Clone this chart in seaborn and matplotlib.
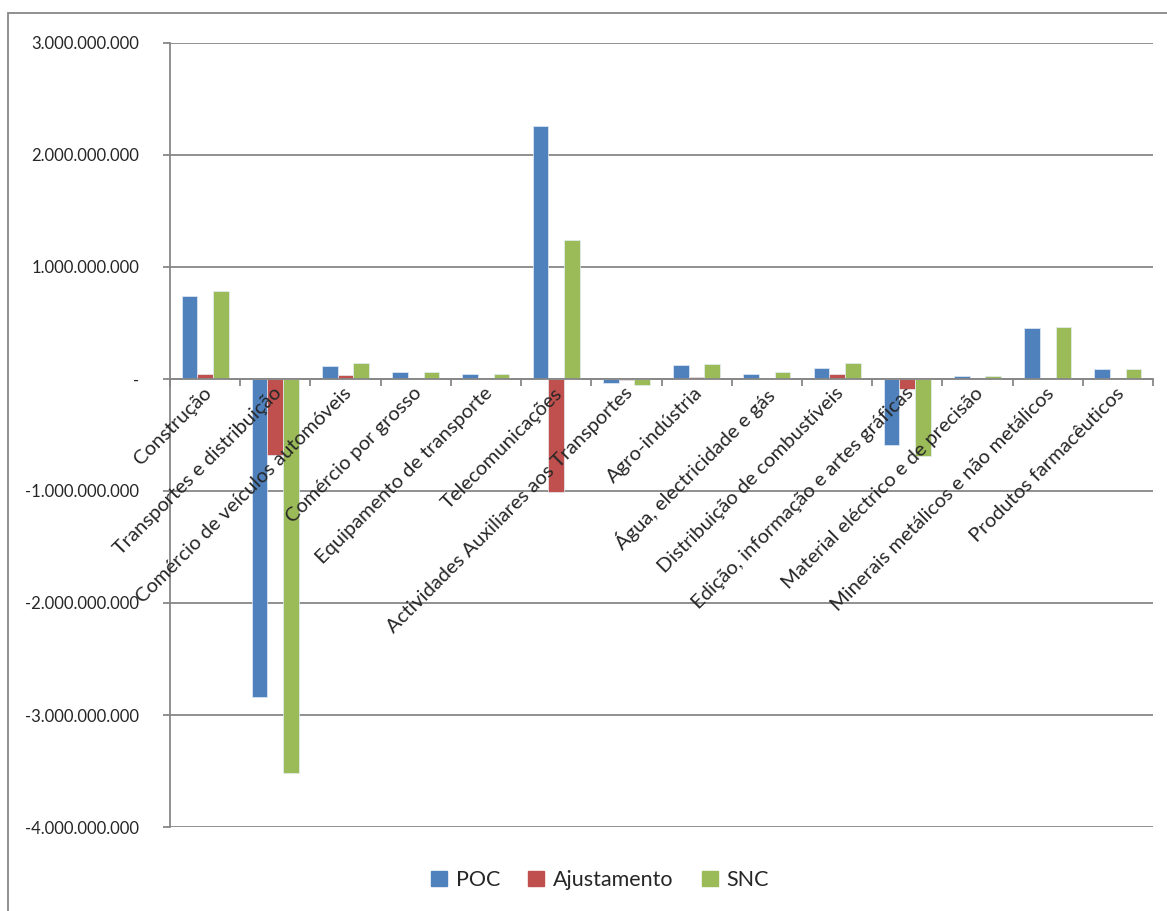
import matplotlib
matplotlib.use("Agg")
import matplotlib.pyplot as plt
from matplotlib.patches import Rectangle
from matplotlib.ticker import FixedLocator, FuncFormatter
import pandas as pd
import seaborn as sns

categories = [
    "Construção",
    "Transportes e distribuição",
    "Comércio de veículos automóveis",
    "Comércio por grosso",
    "Equipamento de transporte",
    "Telecomunicações",
    "Actividades Auxiliares aos Transportes",
    "Agro-indústria",
    "Água, electricidade e gás",
    "Distribuição de combustíveis",
    "Edição, informação e artes gráficas",
    "Material eléctrico e de precisão",
    "Minerais metálicos e não metálicos",
    "Produtos farmacêuticos",
]
series = ["POC", "Ajustamento", "SNC"]

poc = [744e6, -2840e6, 116e6, 63e6, 48e6, 2260e6, -38e6, 125e6, 48e6, 98e6, -590e6, 27e6, 458e6, 89e6]
ajust = [47e6, -680e6, 33e6, 3e6, 2e6, -1010e6, -12e6, 18e6, 10e6, 47e6, -92e6, 1e6, 2e6, 1e6]
snc = [786e6, -3520e6, 143e6, 63e6, 45e6, 1240e6, -50e6, 134e6, 62e6, 143e6, -685e6, 25e6, 464e6, 86e6]

colors = ["#4F81BD", "#C0504D", "#9BBB59"]

df = pd.DataFrame({
    "Categoria": categories * 3,
    "Série": [s for s in series for _ in categories],
    "Valor": poc + ajust + snc,
})

sns.set_style("white")
plt.rcParams["font.family"] = ["Lato", "DejaVu Sans"]

fig = plt.figure(figsize=(11.67, 9.11), dpi=100)
W, H = 1167, 911
ax = fig.add_axes([170 / W, 1 - 827 / H, (1153 - 170) / W, (827 - 43) / H])

sns.barplot(data=df, x="Categoria", y="Valor", hue="Série", palette=colors,
            width=0.67, ax=ax, legend=False, edgecolor="#E4ECF5", linewidth=0.5,
            saturation=1)

grid_c = "#878787"
ax.set_ylim(-4e9, 3e9)
ax.set_xlim(-0.5, len(categories) - 0.5)
ax.yaxis.set_major_locator(FixedLocator([-4e9, -3e9, -2e9, -1e9, 0, 1e9, 2e9, 3e9]))


def fmt(v, pos):
    if abs(v) < 1:
        return "-"
    return f"{v:,.0f}".replace(",", ".")


ax.yaxis.set_major_formatter(FuncFormatter(fmt))
ax.yaxis.grid(True, color=grid_c, linewidth=1.3)
ax.set_axisbelow(True)
ax.set_xlabel("")
ax.set_ylabel("")

for s in ["top", "right"]:
    ax.spines[s].set_visible(False)
ax.spines["left"].set_color(grid_c)
ax.spines["left"].set_linewidth(1.3)
ax.spines["bottom"].set_position(("data", 0))
ax.spines["bottom"].set_color(grid_c)
ax.spines["bottom"].set_linewidth(1.3)

ax.tick_params(axis="y", length=5, width=1.3, color=grid_c, labelsize=12, pad=17, left=True)
ax.set_xticks([i - 0.5 for i in range(len(categories) + 1)])
ax.set_xticklabels([])
ax.tick_params(axis="x", length=5, width=1.3, color=grid_c, direction="out", bottom=True)

for i, c in enumerate(categories):
    ax.annotate(c, xy=(i, 0), xycoords="data", xytext=(-2, -4), textcoords="offset points",
                rotation=45, ha="right", va="top", rotation_mode="anchor",
                fontsize=14.5)

handles = [Rectangle((0, 0), 1, 1, color=c) for c in colors]
fig.legend(handles, series, loc="center", bbox_to_anchor=(600 / W, 1 - 880 / H),
           ncol=3, frameon=False, prop={"size": 15.5},
           handlelength=0.75, handleheight=0.75, handletextpad=0.4, columnspacing=1.3)

fig.patches.append(Rectangle((8 / W, -0.1), 1.2, 1.1 - 13 / H, transform=fig.transFigure,
                             fill=False, edgecolor=grid_c, linewidth=1.3))

fig.savefig("out.png", dpi=100)
